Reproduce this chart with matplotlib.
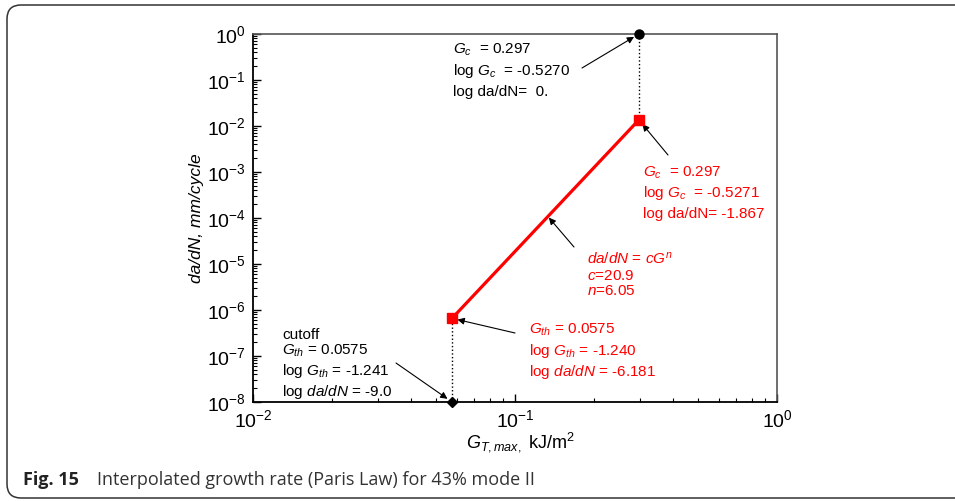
import numpy as np
import matplotlib
matplotlib.use("Agg")
import matplotlib.pyplot as plt
from matplotlib.patches import FancyBboxPatch

# Datos (Paris law, 43% mode II)
g_limites = [0.0575, 0.297]          # G_th, G_c  (kJ/m^2)
log_dadn_limites = [-6.181, -1.867]  # log da/dN nos extremos
g_corte = [0.0575, 0.297]            # pontos pretos (cutoff / fratura)
dadn_corte = [1e-8, 1e0]
c_paris = 20.9
n_paris = 6.05

plt.rcParams['font.family'] = ['Liberation Sans', 'DejaVu Sans']
plt.rcParams['mathtext.fontset'] = 'custom'
plt.rcParams['mathtext.rm'] = 'Liberation Sans'
plt.rcParams['mathtext.it'] = 'Liberation Sans:italic'

W, H = 955, 501
fig = plt.figure(figsize=(W / 100, H / 100), dpi=100)

def px(x, y):
    return x / W, 1 - y / H

# moldura arredondada
moldura = FancyBboxPatch((0.07, 0.03), 9.8, 4.93, boxstyle="round,pad=0,rounding_size=0.14",
                         transform=fig.dpi_scale_trans, fill=False, ec='#333333', lw=1.1)
fig.patches.append(moldura)

ax = fig.add_axes([253 / W, 1 - 402 / H, (777 - 253) / W, (402 - 34) / H])
ax.set_xscale('log')
ax.set_yscale('log')
ax.set_xlim(1e-2, 1e0)
ax.set_ylim(1e-8, 1e0)

# linha de Paris
g = np.array(g_limites)
dadn = 10 ** np.array(log_dadn_limites)
ax.plot(g, dadn, color='red', lw=2.3, zorder=3)
ax.plot(g, dadn, 's', color='red', ms=7, zorder=4, clip_on=False)

# linhas pontilhadas
for gi, yc, yr in zip(g, dadn_corte, dadn):
    ax.plot([gi, gi], [yc, yr], ':', color='black', lw=1, zorder=2)

ax.plot(g_corte[1], dadn_corte[1], 'o', color='black', ms=6.5, clip_on=False, zorder=5)
ax.plot(g_corte[0], dadn_corte[0], 'D', color='black', ms=5, clip_on=False, zorder=5)

# eixos
for s in ['left', 'bottom']:
    ax.spines[s].set_linewidth(1.3)
    ax.spines[s].set_color('black')
for s in ['top', 'right']:
    ax.spines[s].set_linewidth(1.2)
    ax.spines[s].set_color('#555555')
ax.tick_params(which='both', direction='in', top=False, right=False, labelsize=14)
ax.tick_params(which='major', length=6, width=1, pad=5)
ax.tick_params(which='minor', length=3, width=0.8)
ax.yaxis.set_major_locator(matplotlib.ticker.LogLocator(base=10, numticks=20))
ax.yaxis.set_minor_locator(matplotlib.ticker.LogLocator(base=10, subs=np.arange(2, 10), numticks=20))
ax.yaxis.set_minor_formatter(matplotlib.ticker.NullFormatter())
ax.xaxis.set_minor_formatter(matplotlib.ticker.NullFormatter())

ax.set_xlabel(r'$G_{T,max,}$ kJ/m$^2$', fontsize=13, ha='left', va='baseline')
ax.xaxis.set_label_coords((466 - 253) / 524, -(447 - 402) / 368)
ax.set_ylabel('da/dN, mm/cycle', fontsize=12.5, style='italic', va='center')
ax.yaxis.set_label_coords(-(253 - 196) / 524, 0.5)

fs = 11
seta = dict(arrowstyle='-|>', color='black', lw=0.8, mutation_scale=10, shrinkA=0, shrinkB=4)

def bloco(x, ys, linhas, cor):
    for yy, t in zip(ys, linhas):
        fig.text(*px(x, yy + 5), t, fontsize=fs, color=cor, va='baseline', ha='left')

# ponto de fratura (preto)
bloco(453, [49, 70, 91], [r'$G_c$  = 0.297', r'log $G_c$  = -0.5270', 'log da/dN=  0.'], 'black')
ax.annotate('', xy=(g_corte[1], dadn_corte[1]), xytext=(582, H - 68), textcoords='figure pixels',
            arrowprops=seta, annotation_clip=False)

# G_c (vermelho)
bloco(643, [172, 192, 213], [r'$G_c$  = 0.297', r'log $G_c$  = -0.5271', 'log da/dN= -1.867'], 'red')
ax.annotate('', xy=(g[1], dadn[1]), xytext=(668, H - 155), textcoords='figure pixels', arrowprops=seta)

# lei de Paris
bloco(587, [259, 275, 290], [r'$da/dN$ = $cG^n$', r'$c$=20.9', r'$n$=6.05'], 'red')
g_meio = 0.1336
ax.annotate('', xy=(g_meio, c_paris * g_meio ** n_paris), xytext=(574, H - 247),
            textcoords='figure pixels', arrowprops=dict(seta, shrinkB=1))

# G_th (vermelho)
bloco(529, [329, 350, 371], [r'$G_{th}$ = 0.0575', r'log $G_{th}$ = -1.240', r'log $da/dN$ = -6.181'], 'red')
ax.annotate('', xy=(g[0], dadn[0]), xytext=(515, H - 333), textcoords='figure pixels', arrowprops=seta)

# cutoff (preto)
bloco(282, [334, 350, 370, 391], ['cutoff', r'$G_{th}$ = 0.0575', r'log $G_{th}$ = -1.241', r'log $da/dN$ = -9.0'], 'black')
ax.annotate('', xy=(g_corte[0], dadn_corte[0]), xytext=(396, H - 363), textcoords='figure pixels',
            arrowprops=seta, annotation_clip=False)

# legenda da figura
fig.text(*px(23, 485), 'Fig. 15', fontsize=13, fontweight='bold', family=['Open Sans', 'DejaVu Sans'],
         color='#222222', va='baseline')
fig.text(*px(97, 485), 'Interpolated growth rate (Paris Law) for 43% mode II', fontsize=13,
         family=['Open Sans', 'DejaVu Sans'], color='#333333', va='baseline')

fig.savefig('out.png', dpi=100)
